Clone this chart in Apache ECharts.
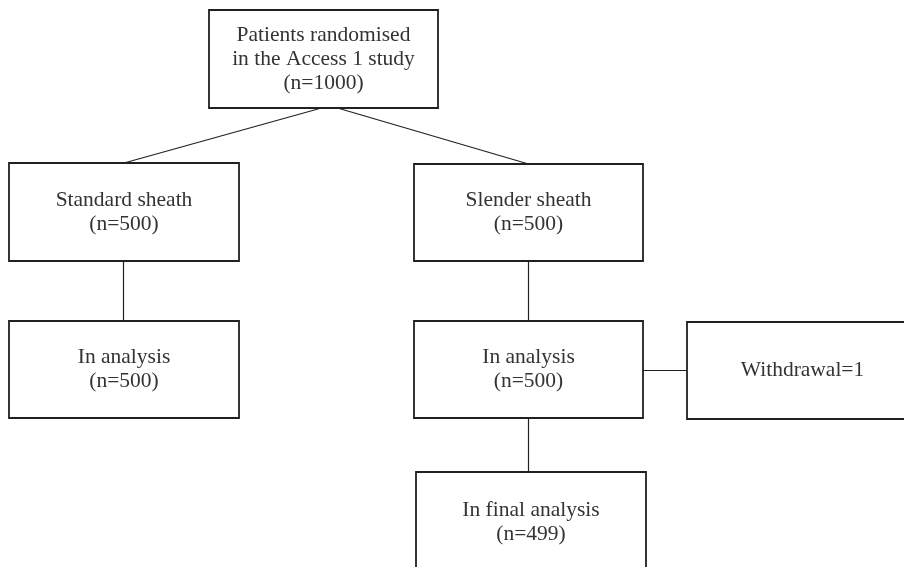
<!DOCTYPE html>
<html>
<head>
<meta charset="utf-8">
<title>Access 1 study flow</title>
<script src="https://cdn.jsdelivr.net/npm/echarts@6/dist/echarts.min.js"></script>
<style>
    html, body { margin: 0; padding: 0; background: #fff; }
    #chart { width: 904px; height: 567px; }
</style>
</head>
<body>
<div id="chart"></div>
<script>
// flow steps and patient counts
const stepNames = [
    'Patients randomised\nin the Access 1 study',
    'Standard sheath',
    'Slender sheath',
    'In analysis',
    'In analysis',
    'Withdrawal',
    'In final analysis'
];
const stepCounts = [1000, 500, 500, 500, 500, 1, 499];
const countInline = [false, false, false, false, false, true, false];
const stepLinks = [[0, 1], [0, 2], [1, 3], [2, 4], [4, 5], [4, 6]];

// layout only: box corners in px [left, top, right, bottom]
const boxLayout = [
    [209, 10, 438, 108],
    [9, 163, 239, 261],
    [414, 164, 643, 261],
    [9, 321, 239, 418],
    [414, 321, 643, 418],
    [687, 322, 918, 419],
    [416, 472, 646, 572]
];
const linkStartShift = [-2, 14, -1, 0, 0, 0];

const INK = '#231f20';

function stepLabel(i) {
    if (countInline[i]) {
        return stepNames[i] + '=' + stepCounts[i];
    }
    return stepNames[i] + '\n(n=' + stepCounts[i] + ')';
}

function linkCoords(link, k) {
    const a = boxLayout[link[0]];
    const b = boxLayout[link[1]];
    const sameRow = a[1] < b[3] && b[1] < a[3];
    if (sameRow) {
        const y = (Math.max(a[1], b[1]) + Math.min(a[3], b[3])) / 2;
        return [[a[2], y], [b[0], y]];
    }
    const ax = (a[0] + a[2]) / 2 + linkStartShift[k];
    // straight drop when the boxes sit in the same column
    const sameCol = Math.abs(((a[0] + a[2]) - (b[0] + b[2])) / 2) < 10;
    const bx = sameCol ? ax : (b[0] + b[2]) / 2;
    return [[ax, a[3]], [bx, b[1]]];
}

const chart = echarts.init(document.getElementById('chart'));

chart.setOption({
    animation: false,
    grid: { left: 0, right: 0, top: 0, bottom: 0 },
    xAxis: { type: 'value', min: 0, max: 904, show: false },
    yAxis: { type: 'value', min: 0, max: 567, inverse: true, show: false },
    series: [
        {
            type: 'lines',
            coordinateSystem: 'cartesian2d',
            silent: true,
            z: 1,
            lineStyle: { color: INK, width: 1.2, opacity: 1 },
            data: stepLinks.map((l, k) => ({ coords: linkCoords(l, k) }))
        },
        {
            type: 'custom',
            coordinateSystem: 'cartesian2d',
            silent: true,
            z: 2,
            data: stepNames.map((n, i) => [i]),
            renderItem(params, api) {
                const i = api.value(0);
                const b = boxLayout[i];
                const p0 = api.coord([b[0], b[1]]);
                const p1 = api.coord([b[2], b[3]]);
                return {
                    type: 'rect',
                    shape: { x: p0[0], y: p0[1], width: p1[0] - p0[0], height: p1[1] - p0[1] },
                    style: { fill: '#fff', stroke: INK, lineWidth: 1.8 },
                    textContent: {
                        style: {
                            text: stepLabel(i),
                            fontFamily: '"Liberation Serif", serif',
                            fontSize: 21.5,
                            lineHeight: 24,
                            fill: '#333',
                            align: 'center'
                        }
                    },
                    textConfig: { position: 'inside' }
                };
            }
        }
    ]
});

window.addEventListener('resize', () => chart.resize());
</script>
</body>
</html>
